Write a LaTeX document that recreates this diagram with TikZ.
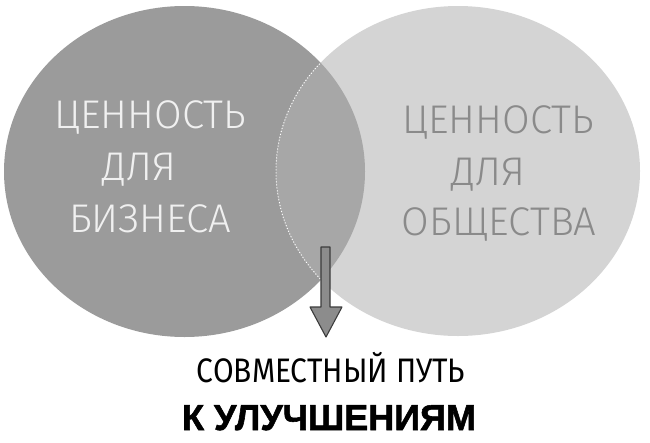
\documentclass[tikz,border=0pt]{standalone}
\usepackage{graphicx}
\usepackage{fontspec}
\newfontfamily\hand{Fira Sans Light}
\newfontfamily\handreg{Fira Sans}
\newfontfamily\heavy{Liberation Sans}[BoldFont={Liberation Sans Bold}, BoldFeatures={FakeBold=1.6}]
\definecolor{bizcol}{HTML}{9B9B9B}
\definecolor{socol}{HTML}{D4D4D4}
\definecolor{overcol}{HTML}{A7A7A7}
\definecolor{sotext}{HTML}{8A8A8A}
\definecolor{arrowfill}{HTML}{8C8C8C}
\definecolor{arrowline}{HTML}{3C3C3C}
\tikzset{
  handtxt/.style={font=\hand\fontsize{40}{40}\selectfont, inner sep=0pt, anchor=base},
  leftxt/.style={handtxt, text=white!94!black},
  rightxt/.style={handtxt, text=sotext},
  blockarrow/.style={fill=arrowfill, draw=arrowline, line width=1.1pt, line join=round}
}
\begin{document}
\begin{tikzpicture}[x=1pt,y=-1pt]
\useasboundingbox (0,0) rectangle (650,442);
\coordinate (bizc) at (184.5,171.5);
\coordinate (soc) at (458,171);
% circles
\fill[bizcol] (bizc) ellipse [x radius=180.5, y radius=165.5];
\fill[socol] (soc) ellipse [x radius=182, y radius=165];
\begin{scope}
  \clip (bizc) ellipse [x radius=180.5, y radius=165.5];
  \fill[overcol] (soc) ellipse [x radius=182, y radius=165];
  \draw[white, dotted, line width=1pt] (soc) ellipse [x radius=182, y radius=165];
\end{scope}
% texts
\node[leftxt] (l1) at (150,128) {ЦЕННОСТЬ};
\node[leftxt] (l2) at (139,180) {ДЛЯ};
\node[leftxt] (l3) at (150,232) {БИЗНЕСА};
\node[rightxt] (r1) at (498,133) {ЦЕННОСТЬ};
\node[rightxt] (r2) at (488,185) {ДЛЯ};
\node[rightxt] (r3) at (499,235) {ОБЩЕСТВА};
\node[handtxt, font=\handreg\fontsize{34}{34}\selectfont, text=black] (b1) at (331,382) {\scalebox{0.88}[1]{СОВМЕСТНЫЙ ПУТЬ}};
\node[inner sep=0pt, anchor=base, font=\heavy\bfseries\fontsize{36}{36}\selectfont] (b2) at (329,430) {К УЛУЧШЕНИЯМ};
% arrow
\coordinate (atop) at (325.5,247);
\coordinate (atip) at (326,337);
\draw[blockarrow] (321,247) -- (330,247) -- (330,307) -- (342,307) -- (atip) -- (310,307) -- (321,307) -- cycle;
\end{tikzpicture}
\end{document}
